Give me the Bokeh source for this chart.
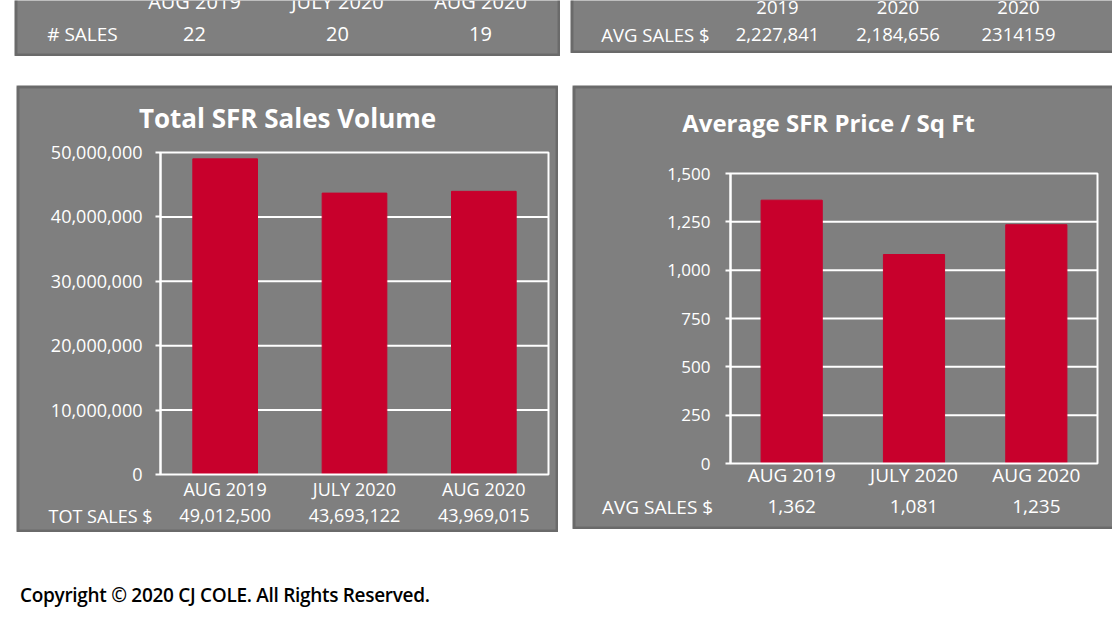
from bokeh.plotting import figure
from bokeh.models import (Range1d, Label, BoxAnnotation, LinearAxis, FixedTicker,
                          SingleIntervalTicker, NumeralTickFormatter, Div)
from bokeh.layouts import row, column
from bokeh.embed import file_html
from bokeh.resources import INLINE
from bokeh.core.properties import value

# ---- data ----
months = ["AUG 2019", "JULY 2020", "AUG 2020"]
num_sales = [22, 20, 19]
avg_sales_years = ["2019", "2020", "2020"]
avg_sales_labels = ["2,227,841", "2,184,656", "2314159"]
tot_sales = [49012500, 43693122, 43969015]
price_sqft = [1362, 1081, 1235]

FONT = "Open Sans"
GREY = "#7f7f7f"
RED = "#c8002c"
TXT = "#ffffff"
EDGE = "#3c3c3c"
idx = list(range(len(months)))


class Panel:
    """A figure whose frame fills the whole canvas; page pixel <-> data helpers."""

    def __init__(self, ox, oy, W, H, px0, sx, py0, sy, margin):
        self.ox, self.oy, self.W, self.H = ox, oy, W, H
        self.px0, self.sx, self.py0, self.sy = px0, sx, py0, sy
        self.p = figure(width=W, height=H, output_backend="svg", toolbar_location=None,
                        background_fill_color=GREY, border_fill_color=GREY,
                        x_range=Range1d((ox - px0) / sx, (ox + W - px0) / sx),
                        y_range=Range1d(-(oy + H - py0) / sy, (py0 - oy) / sy),
                        x_axis_location=None, y_axis_location=None,
                        min_border=0, min_border_left=0, min_border_right=0,
                        min_border_top=0, min_border_bottom=0, margin=margin)
        self.p.grid.visible = False
        self.p.outline_line_color = None

    def xd(self, px):
        return (px - self.px0) / self.sx

    def yd(self, py):
        return (self.py0 - py) / self.sy

    def label(self, px, py, text, size, style="normal"):
        self.p.add_layout(Label(x=self.xd(px), y=self.yd(py), text=text, text_font=FONT,
                                text_font_size=size, text_font_style=style, text_color=TXT,
                                text_align="center", text_baseline="middle"))

    def row_text(self, py, texts, size):
        self.p.text(x=idx, y=self.yd(py), text=texts, text_font=value(FONT),
                    text_font_size=size, text_color=TXT, text_align="center",
                    text_baseline="middle")

    def edge(self, extend_top=0, extend_right=0):
        self.p.add_layout(BoxAnnotation(left=1.5, right=self.W - 1.5 + extend_right,
                                        bottom=1.5, top=self.H - 1.5 + extend_top,
                                        left_units="screen", right_units="screen",
                                        bottom_units="screen", top_units="screen",
                                        fill_color=None, fill_alpha=0,
                                        line_color=EDGE, line_width=3))


# ---- top-left table (cut off at the page top) ----
tl = Panel(14, 0, 546, 56, 194, 143, 56, 1, margin=(0, 0, 0, 14))
tl.row_text(1, months, "20px")
tl.row_text(33, [str(v) for v in num_sales], "20px")
tl.label(82, 33, "# SALES", "19px")
tl.edge(extend_top=10)

# ---- top-right table (cut off at the page top) ----
tr = Panel(570, 0, 542, 53, 777, 120.5, 53, 1, margin=(0, 0, 0, 10))
tr.row_text(7, avg_sales_years, "18.5px")
tr.row_text(34, avg_sales_labels, "18.5px")
tr.label(655, 34, "AVG SALES $", "18.5px")
tr.edge(extend_top=10, extend_right=10)


def bar_panel(pan, vals, ymax, step, title, title_xy, title_size, row_name, row_name_x,
              row_labels, rows_y, font, tick_font, tick_standoff, month_standoff,
              extend_right=0):
    p = pan.p
    n = len(vals)
    # gridlines behind the bars
    gy = list(range(step, ymax, step))
    p.segment(x0=-0.5, x1=n - 0.5, y0=gy, y1=gy, line_color="white", line_width=2)
    p.vbar(x=idx, top=vals, bottom=0, width=0.5, color=RED)
    # plot-area outline
    p.quad(left=-0.5, right=n - 0.5, bottom=0, top=ymax, fill_color=None,
           line_color="white", line_width=2)

    ya = LinearAxis(fixed_location=-0.5, bounds=(0, ymax),
                    ticker=SingleIntervalTicker(interval=step),
                    formatter=NumeralTickFormatter(format="0,0"))
    ya.axis_line_color = "white"
    ya.axis_line_width = 2
    ya.major_tick_line_color = "white"
    ya.major_tick_line_width = 2
    ya.major_tick_out = 5
    ya.major_tick_in = 0
    ya.minor_tick_line_color = None
    ya.major_label_text_color = TXT
    ya.major_label_text_font = FONT
    ya.major_label_text_font_size = tick_font
    ya.major_label_standoff = tick_standoff
    p.add_layout(ya, "left")

    xa = LinearAxis(fixed_location=0, ticker=FixedTicker(ticks=idx),
                    major_label_overrides={i: m for i, m in zip(idx, months)})
    xa.axis_line_color = None
    xa.major_tick_line_color = None
    xa.minor_tick_line_color = None
    xa.major_label_text_color = TXT
    xa.major_label_text_font = FONT
    xa.major_label_text_font_size = font
    xa.major_label_standoff = month_standoff
    p.add_layout(xa, "below")

    pan.row_text(rows_y, row_labels, font)
    pan.label(row_name_x, rows_y, row_name, font)
    pan.label(title_xy[0], title_xy[1], title, title_size, "bold")
    pan.edge(extend_right=extend_right)
    return p


bl = Panel(16, 85, 542, 447, 160 + 388 / 6, 388 / 3, 474, 322 / 50000000, margin=(29, 0, 0, 16))
bar_panel(bl, tot_sales, 50000000, 10000000, "Total SFR Sales Volume", (287, 117), "26px",
          "TOT SALES $", 100, [f"{v:,}" for v in tot_sales], 515, "18px", "18px", 13, -4)

br = Panel(572, 85, 540, 444, 730 + 367 / 6, 367 / 3, 463, 290 / 1500, margin=(29, 0, 0, 14))
bar_panel(br, price_sqft, 1500, 250, "Average SFR Price / Sq Ft", (828, 122), "24px",
          "AVG SALES $", 657, [f"{v:,}" for v in price_sqft], 506, "19px", "17px", 15, -8,
          extend_right=10)

copyright = Div(text="Copyright © 2020 CJ COLE. All Rights Reserved.", width=520, height=22,
                margin=(52, 0, 0, 20),
                styles={"font-family": "Open Sans", "font-size": "19px", "font-weight": "600",
                        "color": "#000000", "letter-spacing": "-0.3px", "line-height": "22px"})

layout = column(row(tl.p, tr.p), row(bl.p, br.p), copyright)

open("out.html", "w").write(file_html(layout, INLINE))
